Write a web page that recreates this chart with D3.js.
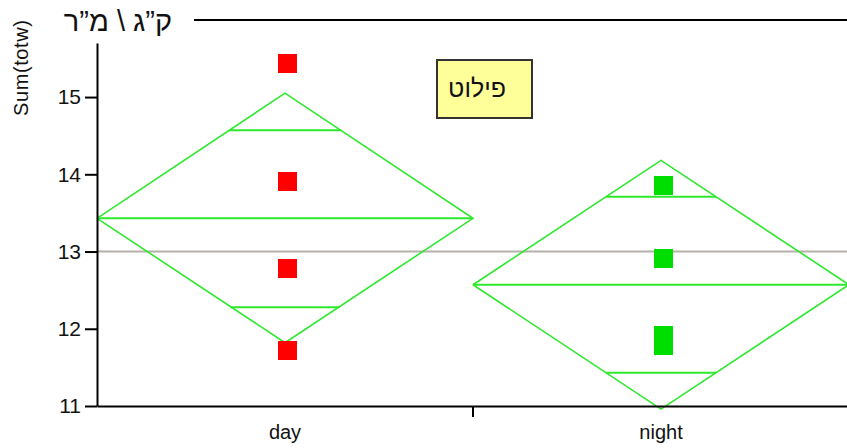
<!DOCTYPE html>
<html>
<head>
<meta charset="utf-8">
<script src="https://cdn.jsdelivr.net/npm/d3@7"></script>
<style>
  body { margin: 0; background: #fff; }
  text { font-family: "Liberation Sans", Arial, sans-serif; }
</style>
</head>
<body>
<div id="chart"></div>
<script>
const categories = ["day", "night"];
const dayValues = [15.43, 13.91, 12.78, 11.72];
const nightValues = [13.86, 12.91, 11.91, 11.78];
const means = [13.43, 12.57];
const ciUpper = [15.05, 14.18];
const ciLower = [11.82, 10.96];
const overlapUpper = [14.57, 13.71];
const overlapLower = [12.28, 11.43];
const grandMean = 13.0;
const yTicks = [11, 12, 13, 14, 15];
const pointColors = ["#ff0000", "#00dd00"];

function drawChart() {
  const width = 847;
  const height = 448;

  var svg = d3.select("#chart")
              .append("svg")
              .attr("width", width)
              .attr("height", height)
              .attr("viewBox", [0, 0, width, height]);

  var x = d3.scaleBand()
            .domain(categories)
            .range([97, 849]);

  var y = d3.scaleLinear()
            .domain([11, 15.7])
            .range([406, 43]);

  var series = [dayValues, nightValues];

  // grand mean
  svg.append("line")
     .attr("x1", x.range()[0]).attr("x2", width)
     .attr("y1", y(grandMean)).attr("y2", y(grandMean))
     .attr("stroke", "#b5b1a9")
     .attr("stroke-width", 2);

  // means diamonds
  categories.forEach(function(c, i) {
    var x0 = x(c), x1 = x(c) + x.bandwidth(), xm = x(c) + x.bandwidth() / 2;
    var half = x.bandwidth() / 2;
    var ciHalf = ciUpper[i] - means[i];
    var g = svg.append("g")
               .attr("stroke", "#2ee82e")
               .attr("stroke-width", 1.6)
               .attr("fill", "none");

    g.append("path")
     .attr("d", d3.line()([[x0, y(means[i])], [xm, y(ciUpper[i])], [x1, y(means[i])],
                           [xm, y(ciLower[i])], [x0, y(means[i])]]));

    g.append("line")
     .attr("x1", x0).attr("x2", x1)
     .attr("y1", y(means[i])).attr("y2", y(means[i]))
     .attr("stroke-width", 2);

    [overlapUpper[i], overlapLower[i]].forEach(function(v) {
      var w = half * (1 - Math.abs(v - means[i]) / ciHalf);
      g.append("line")
       .attr("x1", xm - w).attr("x2", xm + w)
       .attr("y1", y(v)).attr("y2", y(v))
       .attr("stroke-width", 2);
    });
  });

  // points
  var size = 19;
  series.forEach(function(vals, i) {
    svg.append("g")
       .attr("shape-rendering", "crispEdges")
       .selectAll("rect")
       .data(vals)
       .join("rect")
       .attr("x", Math.round(x(categories[i]) + x.bandwidth() / 2 - size / 2 + 2))
       .attr("y", d => Math.round(y(d) - size / 2))
       .attr("width", size)
       .attr("height", size)
       .attr("fill", pointColors[i]);
  });

  // axes
  var yAxis = svg.append("g")
     .attr("transform", "translate(97,0)")
     .call(d3.axisLeft(y).tickValues(yTicks).tickFormat(d3.format("d"))
             .tickSize(12).tickPadding(4).tickSizeOuter(0));
  yAxis.select(".domain").attr("stroke-width", 2);
  yAxis.selectAll(".tick line").attr("stroke-width", 2);
  yAxis.selectAll(".tick text")
       .attr("font-size", 21)
       .attr("fill", "#111");

  var xAxis = svg.append("g")
     .attr("transform", "translate(0,406)")
     .call(d3.axisBottom(x).tickSize(0).tickPadding(19).tickSizeOuter(0));
  xAxis.select(".domain").attr("stroke-width", 2);
  xAxis.selectAll(".tick text")
       .attr("font-size", 20)
       .attr("fill", "#111");

  svg.append("line")
     .attr("x1", x("night")).attr("x2", x("night"))
     .attr("y1", 406).attr("y2", 417)
     .attr("stroke", "#000")
     .attr("stroke-width", 2);

  // y label
  svg.append("text")
     .attr("transform", "translate(28,68) rotate(-90)")
     .attr("text-anchor", "middle")
     .attr("font-size", 20)
     .attr("textLength", 96)
     .attr("fill", "#111")
     .text("Sum(totw)");

  // title
  svg.append("text")
     .attr("x", 118)
     .attr("y", 31)
     .attr("text-anchor", "middle")
     .attr("direction", "rtl")
     .attr("font-size", 29)
     .attr("fill", "#111")
     .text("ק”ג \\ מ”ר");

  svg.append("line")
     .attr("x1", 194).attr("x2", width)
     .attr("y1", 20).attr("y2", 20)
     .attr("stroke", "#000")
     .attr("stroke-width", 2);

  // legend
  svg.append("rect")
     .attr("x", 437).attr("y", 60)
     .attr("width", 95).attr("height", 58)
     .attr("fill", "#ffff99")
     .attr("stroke", "#333")
     .attr("stroke-width", 2);

  svg.append("text")
     .attr("x", 477)
     .attr("y", 97)
     .attr("text-anchor", "middle")
     .attr("direction", "rtl")
     .attr("font-size", 25)
     .attr("fill", "#111")
     .text("פילוט");
}

drawChart();
</script>
</body>
</html>
